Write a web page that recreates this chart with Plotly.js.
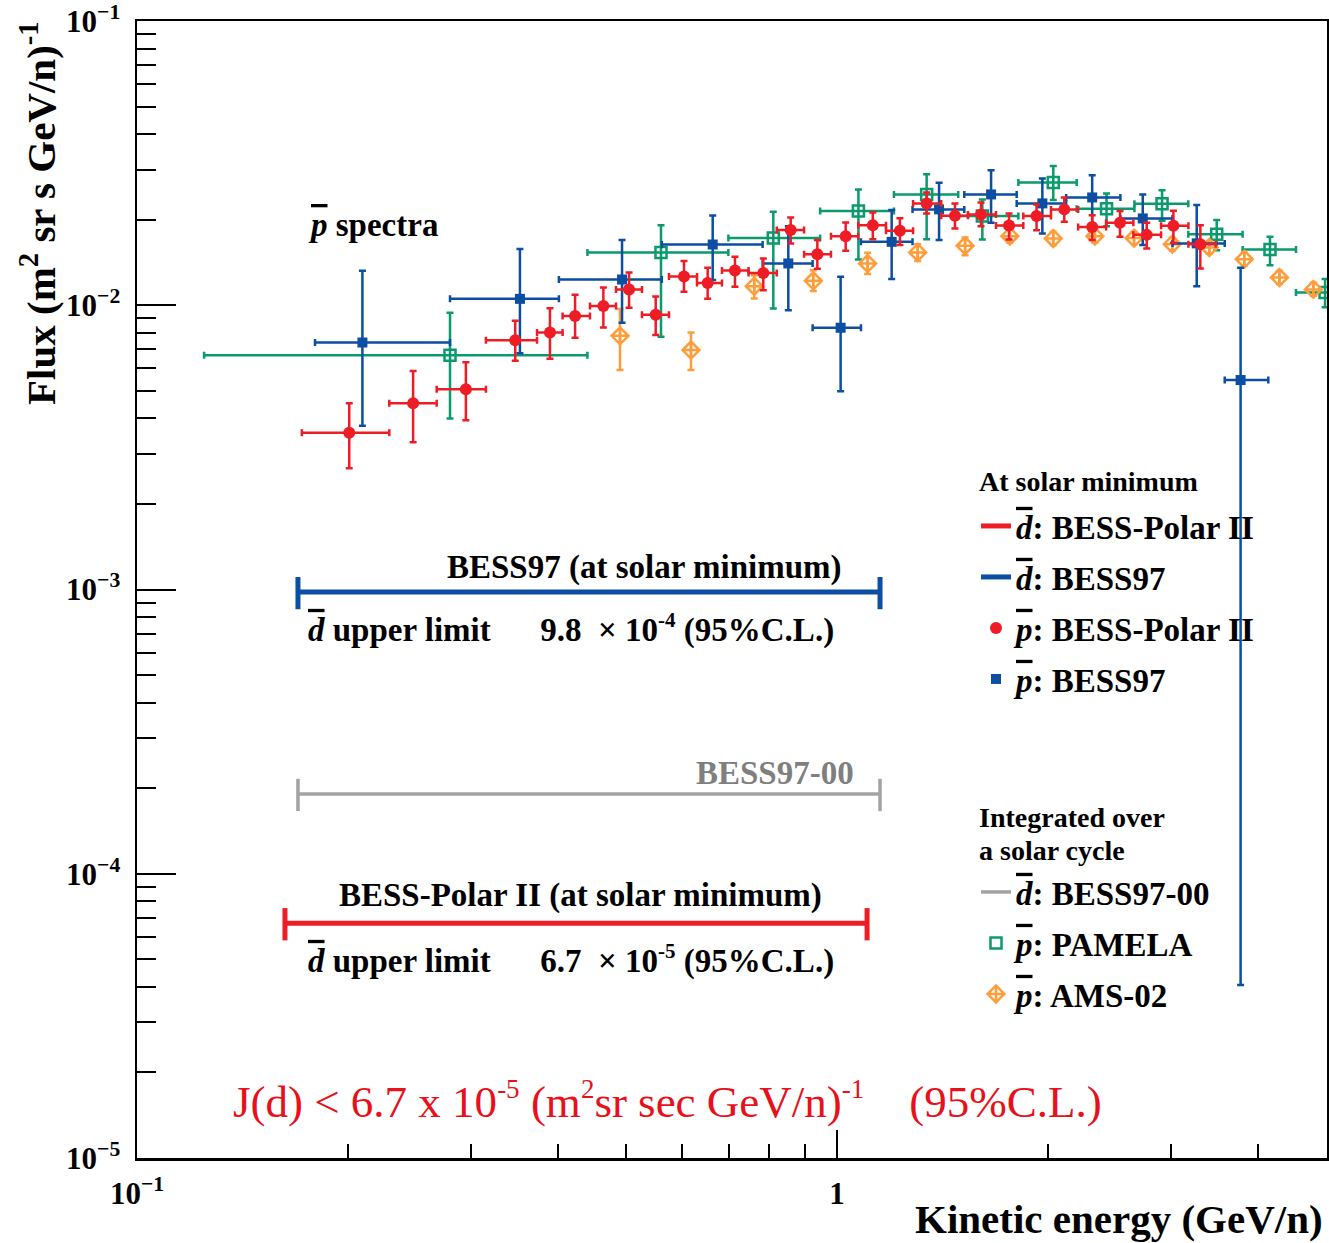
<!DOCTYPE html>
<html><head><meta charset="utf-8">
<script src="https://cdn.plot.ly/plotly-3.0.1.min.js"></script>
<style>html,body{margin:0;padding:0;background:#fff;}</style>
</head><body>
<div id="chart" style="width:1329px;height:1243px;"></div>
<script>
// ---------- DATA ----------
// pbar BESS-Polar II (solar minimum)
const bp2Edges = [0.172,0.2293,0.268,0.3151,0.3728,0.4055,0.4437,0.4834,0.5265,0.5754,0.631,0.685,0.7475,0.8203,0.8973,0.9804,1.0725,1.175,1.2843,1.409,1.5386,1.687,1.8456,2.0216,2.2105,2.4235,2.651,2.9035,3.177,3.475];
const bp2X = [0.201,0.248,0.295,0.347,0.389,0.4225,0.4637,0.5046,0.5508,0.6045,0.6535,0.7149,0.7847,0.8587,0.9374,1.029,1.125,1.23,1.343,1.474,1.606,1.761,1.928,2.112,2.315,2.537,2.77,3.024,3.304];
const bp2Y = [3.56e-3,4.52e-3,5.07e-3,7.54e-3,8.03e-3,9.17e-3,9.94e-3,1.138e-2,9.27e-3,1.263e-2,1.1975e-2,1.327e-2,1.299e-2,1.843e-2,1.514e-2,1.752e-2,1.915e-2,1.829e-2,2.284e-2,2.065e-2,2.089e-2,1.91e-2,2.061e-2,2.176e-2,1.885e-2,1.952e-2,1.77e-2,1.905e-2,1.642e-2];
const bp2Lo = [2.67e-3,3.30e-3,3.94e-3,6.38e-3,6.49e-3,7.69e-3,8.36e-3,9.8e-3,7.86e-3,1.116e-2,1.054e-2,1.162e-2,1.131e-2,1.652e-2,1.345e-2,1.556e-2,1.71e-2,1.63e-2,2.105e-2,1.865e-2,1.9e-2,1.706e-2,1.839e-2,1.968e-2,1.697e-2,1.743e-2,1.586e-2,1.66e-2,1.349e-2];
const bp2Hi = [4.52e-3,5.87e-3,6.31e-3,8.83e-3,9.76e-3,1.09e-2,1.156e-2,1.306e-2,1.075e-2,1.431e-2,1.356e-2,1.483e-2,1.462e-2,2.037e-2,1.697e-2,1.957e-2,2.123e-2,2.027e-2,2.496e-2,2.284e-2,2.303e-2,2.105e-2,2.266e-2,2.397e-2,2.077e-2,2.146e-2,1.952e-2,2.151e-2,1.915e-2];

// pbar BESS97 (solar minimum)
const b97Edges = [0.1796,0.28,0.4006,0.562,0.783,0.923,1.082,1.282,1.52,1.806,2.125,2.54,3.015,3.58,4.132];
const b97X = [0.2099,0.3524,0.4931,0.6644,0.852,1.012,1.197,1.399,1.66,1.965,2.315,2.734,3.265,3.772];
const b97Y = [7.4e-3,1.054e-2,1.233e-2,1.637e-2,1.404e-2,8.34e-3,1.673e-2,2.176e-2,2.456e-2,2.284e-2,2.397e-2,2.022e-2,1.652e-2,5.46e-3];
const b97Lo = [3.77e-3,6.78e-3,8.68e-3,1.227e-2,9.62e-3,4.99e-3,1.237e-2,1.697e-2,1.952e-2,1.79e-2,1.9e-2,1.63e-2,1.168e-2,4.06e-5];
const b97Hi = [1.323e-2,1.577e-2,1.697e-2,2.072e-2,1.9e-2,1.26e-2,2.163e-2,2.698e-2,2.99e-2,2.795e-2,2.872e-2,2.456e-2,2.253e-2,1.356e-2];

// pbar PAMELA
const pamEdges = [0.1247,0.44,0.6996,0.946,1.206,1.49,1.816,2.2,2.66,3.176,3.797,4.526,5.45];
const pamX = [0.28,0.5605,0.811,1.073,1.343,1.613,2.037,2.427,2.913,3.487,4.155,4.98];
const pamY = [6.68e-3,1.535e-2,1.724e-2,2.146e-2,2.456e-2,2.061e-2,2.706e-2,2.187e-2,2.278e-2,1.78e-2,1.573e-2,1.11e-2];
const pamLo = [4.0e-3,7.75e-3,9.75e-3,1.45e-2,1.71e-2,1.706e-2,2.346e-2,1.9e-2,1.984e-2,1.564e-2,1.385e-2,9.85e-3];
const pamHi = [9.41e-3,1.915e-2,2.135e-2,2.557e-2,2.895e-2,2.359e-2,3.09e-2,2.475e-2,2.543e-2,1.995e-2,1.743e-2,1.237e-2];

// pbar AMS-02
const amsX = [0.4898,0.6186,0.7617,0.925,1.106,1.304,1.524,1.766,2.037,2.336,2.657,3.013,3.403,3.818,4.285,4.792];
const amsY = [7.81e-3,6.96e-3,1.168e-2,1.22e-2,1.404e-2,1.535e-2,1.62e-2,1.752e-2,1.719e-2,1.752e-2,1.724e-2,1.642e-2,1.598e-2,1.454e-2,1.253e-2,1.138e-2];
const amsLo = [5.92e-3,5.92e-3,1.057e-2,1.124e-2,1.29e-2,1.431e-2,1.502e-2,1.66e-2,1.63e-2,1.66e-2,1.64e-2,1.56e-2,1.52e-2,1.38e-2,1.19e-2,1.08e-2];
const amsHi = [9.7e-3,8.03e-3,1.277e-2,1.33e-2,1.53e-2,1.642e-2,1.734e-2,1.85e-2,1.81e-2,1.85e-2,1.81e-2,1.73e-2,1.68e-2,1.53e-2,1.32e-2,1.2e-2];

// dbar upper limits: [Emin, Emax], flux limit
const limBP2Range = [0.1627, 1.104]; const limBP2 = 6.7e-5;
const limB97Range = [0.1698, 1.152]; const limB97 = 9.8e-4;
const limB9700Range = [0.1698, 1.152]; const limB9700 = 1.91e-4;

// axis tick labels
const yTickVals = [1e-5,1e-4,1e-3,1e-2,1e-1];
const yTickText = ['10<sup>\u22125</sup>','10<sup>\u22124</sup>','10<sup>\u22123</sup>','10<sup>\u22122</sup>','10<sup>\u22121</sup>'];
const xTickVals = [0.1, 1];
const xTickText = ['10<sup>\u22121</sup>','1'];

// ---------- helpers ----------
const FONT = 'Liberation Serif, Times New Roman, serif';
const RED = '#ee1c25', BLUE = '#0b4ea2', GREEN = '#0a9a6c', ORANGE = '#ff9d3a', GRAY = '#a3a3a3';
const sub = (a,b) => a.map((v,i)=>v-b[i]);
const lowEdges = e => e.slice(0,-1);
const highEdges = e => e.slice(1);
const dbar = '<span style="text-decoration:overline"><i>d</i></span>';
const pbar = '<span style="text-decoration:overline"><i>p</i></span>';

// pixel -> paper helpers for text / legend placement
const L=137, R=1327, T=21, B=1158;
const px = v => (v-L)/(R-L);
const py = v => (B-v)/(B-T);
const bold = (size, color) => ({family:FONT, size:size, color:color||'#000', weight:'bold'});
const NB = '\u00a0';

function pointTrace(name, x, y, lo, hi, edges, color, marker, legendId) {
  const t = {
    type:'scatter', mode:'markers', name:name, x:x, y:y, legend:legendId,
    marker: Object.assign({color:color}, marker),
    error_y:{type:'data', symmetric:false, array:sub(hi,y), arrayminus:sub(y,lo), color:color, thickness:2.5, width:3.5},
    cliponaxis:true
  };
  if (edges) {
    t.error_x = {type:'data', symmetric:false, array:sub(highEdges(edges),x), arrayminus:sub(x,lowEdges(edges)), color:color, thickness:2.5, width:3.5};
  }
  return t;
}
function limitTrace(name, range, val, color, width, legendId) {
  return {
    type:'scatter', mode:'lines', name:name, x:range, y:[val,val], legend:legendId,
    line:{color:color, width:width},
    error_y:{type:'percent', value:13, color:color, thickness:width, width:0}
  };
}

const traces = [
  limitTrace(dbar+': BESS-Polar II', limBP2Range, limBP2, RED, 5, 'legend'),
  limitTrace(dbar+': BESS97', limB97Range, limB97, BLUE, 5, 'legend2'),
  limitTrace(dbar+': BESS97-00', limB9700Range, limB9700, GRAY, 3.5, 'legend5'),
  pointTrace(pbar+': PAMELA', pamX, pamY, pamLo, pamHi, pamEdges, GREEN, {symbol:'square-open', size:11, line:{width:2.5, color:GREEN}}, 'legend6'),
  pointTrace(pbar+': AMS-02', amsX, amsY, amsLo, amsHi, null, ORANGE, {symbol:'diamond-cross-open', size:13, line:{width:2.5, color:ORANGE}}, 'legend7'),
  pointTrace(pbar+': BESS97', b97X, b97Y, b97Lo, b97Hi, b97Edges, BLUE, {symbol:'square', size:10}, 'legend4'),
  pointTrace(pbar+': BESS-Polar II', bp2X, bp2Y, bp2Lo, bp2Hi, bp2Edges, RED, {symbol:'circle', size:12}, 'legend3')
];

// minor tick values
const yMinor = []; for (let d=-5; d<-1; d++) for (let k=2;k<10;k++) yMinor.push(k*Math.pow(10,d));
const xMinor = []; for (let k=2;k<10;k++) xMinor.push(k*0.1); for (let k=2;k<6;k++) xMinor.push(k);

const legendRows = {legend:526, legend2:577, legend3:628, legend4:679, legend5:892, legend6:943, legend7:994};
function legendAt(yc) {
  return {x:px(976), y:py(yc), xanchor:'left', yanchor:'middle', bgcolor:'rgba(0,0,0,0)',
          borderwidth:0, font:bold(33), itemwidth:30};
}

const supSmall = (s, size) => '<sup><span style="font-size:'+size+'px">'+s+'</span></sup>';

const annotations = [
  {text:pbar+' spectra', x:px(306), y:py(225), xanchor:'left', yanchor:'middle', font:bold(33)},
  {text:'BESS97 (at solar minimum)', x:px(644), y:py(567), xanchor:'center', yanchor:'middle', font:bold(33)},
  {text:dbar+' upper limit'+NB.repeat(6)+'9.8'+NB+NB+'\u00d7 10'+supSmall('-4',21)+' (95%C.L.)', x:px(306), y:py(628), xanchor:'left', yanchor:'middle', font:bold(33)},
  {text:'BESS97-00', x:px(856), y:py(773), xanchor:'right', yanchor:'middle', font:bold(33,'#7f7f7f')},
  {text:'BESS-Polar II (at solar minimum)', x:px(580), y:py(895), xanchor:'center', yanchor:'middle', font:bold(33)},
  {text:dbar+' upper limit'+NB.repeat(6)+'6.7'+NB+NB+'\u00d7 10'+supSmall('-5',21)+' (95%C.L.)', x:px(306), y:py(959), xanchor:'left', yanchor:'middle', font:bold(33)},
  {text:'J(d) < 6.7 x 10'+supSmall('-5',27)+' (m'+supSmall('2',27)+'sr sec GeV/n)'+supSmall('-1',27)+NB.repeat(4)+'(95%C.L.)', x:px(231), y:py(1100), xanchor:'left', yanchor:'middle', font:{family:FONT, size:45, color:'#e8101a'}},
  {text:'Flux (m<sup>2</sup> sr s GeV/n)<sup>-1</sup>', textangle:-90, x:px(38), y:py(19), xanchor:'center', yanchor:'top', font:bold(41)},
  {text:'Kinetic energy (GeV/n)', x:px(1325), y:py(1219), xanchor:'right', yanchor:'middle', font:bold(41)},
  {text:'At solar minimum', x:px(977), y:py(481), xanchor:'left', yanchor:'middle', font:bold(28)},
  {text:'Integrated over', x:px(977), y:py(817), xanchor:'left', yanchor:'middle', font:bold(28)},
  {text:'a solar cycle', x:px(977), y:py(850), xanchor:'left', yanchor:'middle', font:bold(28)}
].map(a => Object.assign({xref:'paper', yref:'paper', showarrow:false}, a));

const layout = {
  width:1329, height:1243,
  margin:{l:L, r:1329-R, t:T, b:1243-B, pad:0},
  paper_bgcolor:'#fff', plot_bgcolor:'#fff',
  showlegend:true,
  xaxis:{type:'log', range:[-1, 0.7], showgrid:false, zeroline:false,
         showline:true, linecolor:'#000', linewidth:2.5, mirror:true,
         ticks:'inside', ticklen:28, tickwidth:2, tickcolor:'#000',
         tickvals:xTickVals, ticktext:xTickText, ticklabelstandoff:6, ticklabeloverflow:'allow',
         tickfont:bold(31),
         minor:{tickvals:xMinor, ticks:'inside', ticklen:14, tickwidth:2, tickcolor:'#000', showgrid:false}},
  yaxis:{type:'log', range:[-5.0001, -0.9995], showgrid:false, zeroline:false,
         showline:true, linecolor:'#000', linewidth:2.5, mirror:true,
         ticks:'inside', ticklen:39, tickwidth:2, tickcolor:'#000',
         tickvals:yTickVals, ticktext:yTickText, ticklabelstandoff:8, ticklabeloverflow:'allow',
         tickfont:bold(31),
         minor:{tickvals:yMinor, ticks:'inside', ticklen:19, tickwidth:2, tickcolor:'#000', showgrid:false}},
  annotations:annotations
};
Object.keys(legendRows).forEach(k => { layout[k] = legendAt(legendRows[k]); });

Plotly.newPlot('chart', traces, layout, {staticPlot:true, displayModeBar:false});
</script>
</body></html>
